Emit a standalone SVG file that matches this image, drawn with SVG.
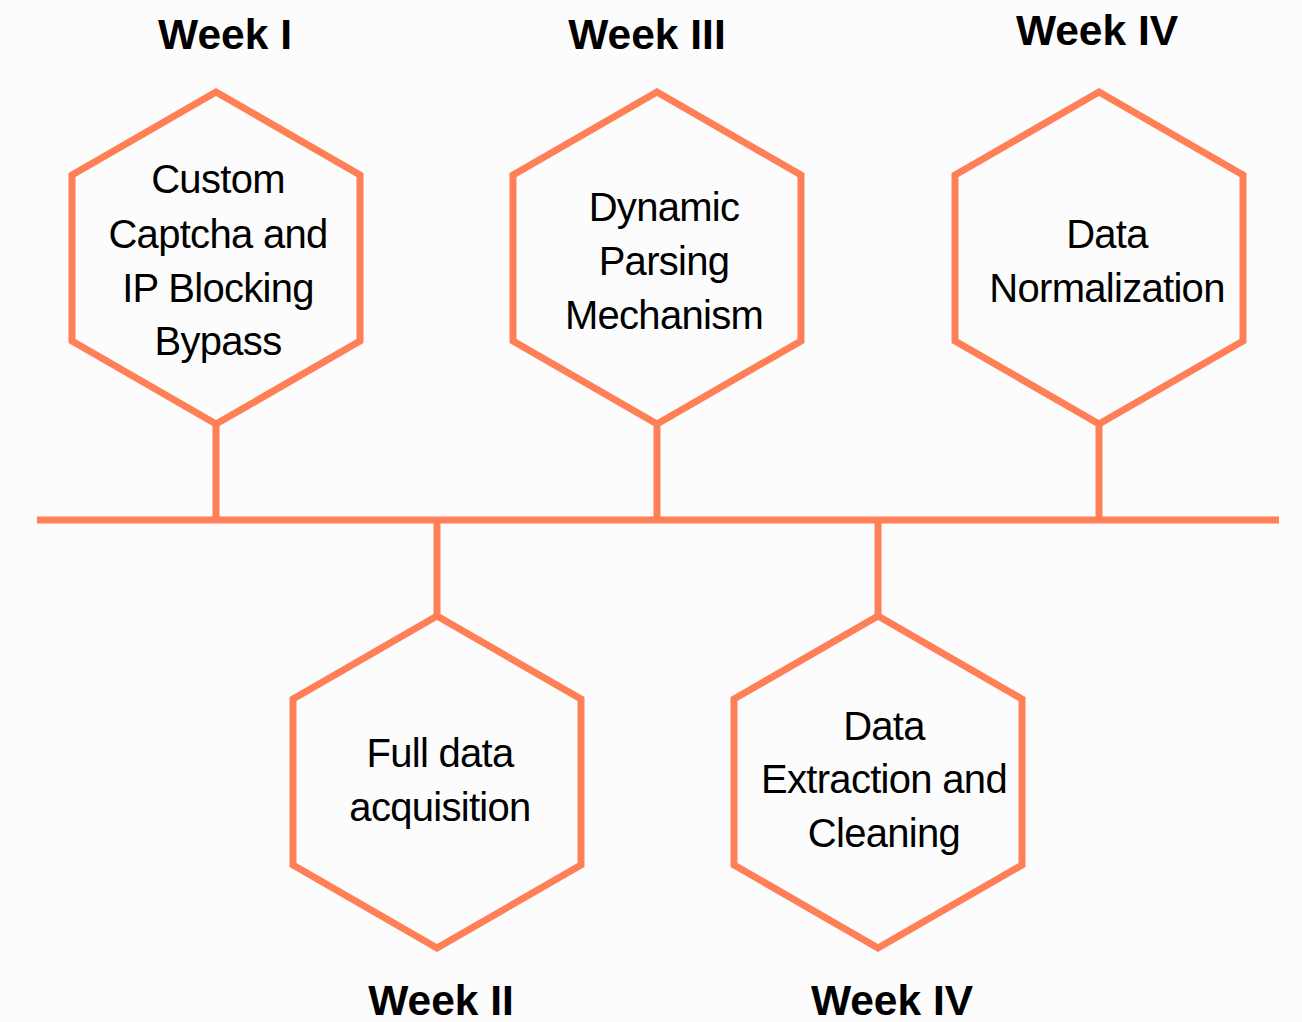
<svg xmlns="http://www.w3.org/2000/svg" width="1302" height="1022" viewBox="0 0 1302 1022">
<style>
.hex{fill:none;stroke:#FF7F57;stroke-width:7;stroke-linejoin:miter}
.ln{stroke:#FF7F57;stroke-width:7;fill:none}
.lbl{font-family:"Liberation Sans",Arial,sans-serif;font-size:40px;fill:#000;text-anchor:middle;letter-spacing:-0.7px}
.wk{font-family:"Liberation Sans",Arial,sans-serif;font-size:42.5px;font-weight:bold;fill:#000;text-anchor:middle}
</style>
<rect width="1302" height="1022" fill="#FCFCFC"/>
<g id="connectors">
<line class="ln" x1="37" y1="520" x2="1279" y2="520"/>
<line class="ln" x1="216" y1="424" x2="216" y2="520"/>
<line class="ln" x1="657" y1="424" x2="657" y2="520"/>
<line class="ln" x1="1099" y1="424" x2="1099" y2="520"/>
<line class="ln" x1="437" y1="520" x2="437" y2="616"/>
<line class="ln" x1="878" y1="520" x2="878" y2="616"/>
</g>
<g id="node1">
<polygon class="hex" points="216,92 360,175 360,341 216,424 72,341 72,175"/>
<text class="lbl" x="218" y="193">Custom</text>
<text class="lbl" x="218" y="248">Captcha and</text>
<text class="lbl" x="218" y="302">IP Blocking</text>
<text class="lbl" x="218" y="355">Bypass</text>
<text class="wk" x="225" y="49">Week I</text>
</g>
<g id="node2">
<polygon class="hex" points="437,616 581,699 581,865 437,948 293,865 293,699"/>
<text class="lbl" x="440" y="767">Full data</text>
<text class="lbl" x="440" y="821">acquisition</text>
<text class="wk" x="441" y="1015">Week II</text>
</g>
<g id="node3">
<polygon class="hex" points="657,92 801,175 801,341 657,424 513,341 513,175"/>
<text class="lbl" x="664" y="221">Dynamic</text>
<text class="lbl" x="664" y="275">Parsing</text>
<text class="lbl" x="664" y="329">Mechanism</text>
<text class="wk" x="647" y="49">Week III</text>
</g>
<g id="node4">
<polygon class="hex" points="878,616 1022,699 1022,865 878,948 734,865 734,699"/>
<text class="lbl" x="884" y="740">Data</text>
<text class="lbl" x="884" y="793">Extraction and</text>
<text class="lbl" x="884" y="847">Cleaning</text>
<text class="wk" x="892" y="1015">Week IV</text>
</g>
<g id="node5">
<polygon class="hex" points="1099,92 1243,175 1243,341 1099,424 955,341 955,175"/>
<text class="lbl" x="1107" y="248">Data</text>
<text class="lbl" x="1107" y="302">Normalization</text>
<text class="wk" x="1097" y="45">Week IV</text>
</g>
</svg>
